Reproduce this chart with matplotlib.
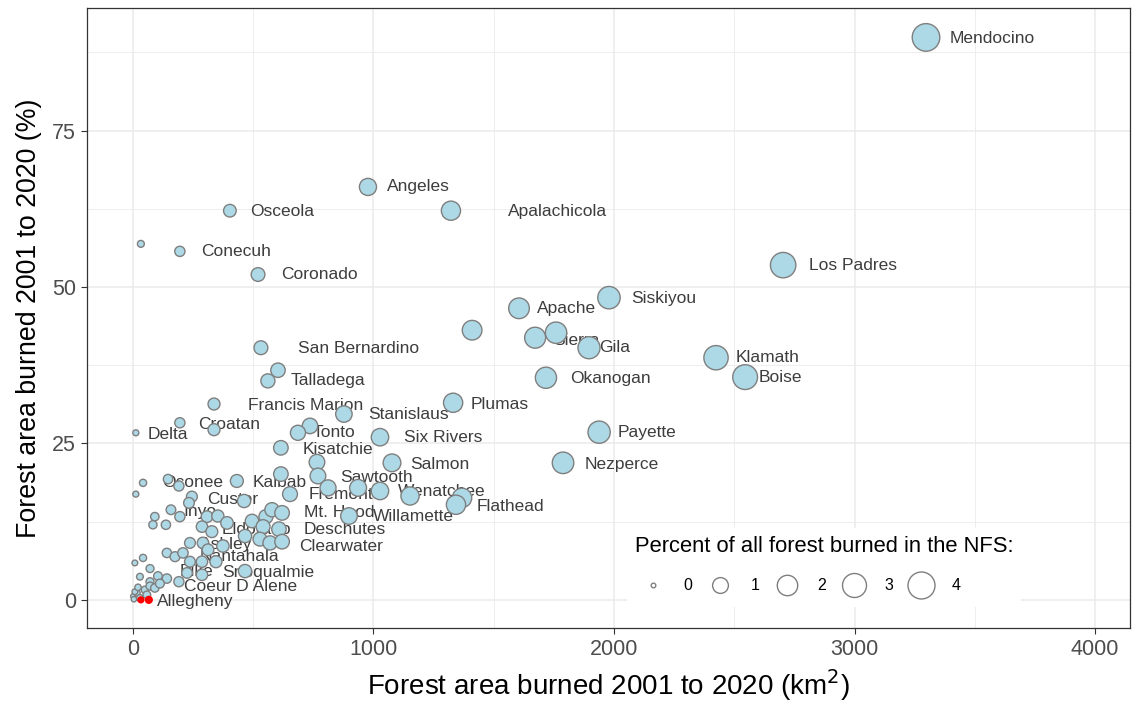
import numpy as np
import matplotlib
matplotlib.use("Agg")
import matplotlib.pyplot as plt
from matplotlib.lines import Line2D

plt.rcParams['font.family'] = ['Liberation Sans', 'DejaVu Sans']

# ---------------- data ----------------
forest = ["Mendocino", "Angeles", "Osceola", "Apalachicola", "", "Conecuh", "Coronado",
          "Los Padres", "Siskiyou", "Apache", "", "Sierra", "", "Gila", "Klamath", "Boise",
          "Okanogan", "San Bernardino", "Talladega", "", "Francis Marion", "Plumas",
          "Stanislaus", "Croatan", "", "Delta", "Tonto", "", "Six Rivers", "Payette",
          "Kisatchie", "Salmon", "Nezperce", "", "", "Sawtooth", "", "Kaibab", "Fremont", "",
          "Wenatchee", "", "Flathead", "", "Willamette", "Custer", "Oconee", "", "", "",
          "", "", "Inyo", "", "", "", "", "", "", "", "", "", "", "Mt. Hood", "", "",
          "Eldorado", "Deschutes", "", "", "", "Clearwater", "Ashley", "", "", "", "", "",
          "Nantahala", "", "Pike", "", "Snoqualmie", "", "", "", "", "Coeur D Alene", "",
          "", "", "", "", "", "", "", "", "", "", "", "", "", ""]
burned_km2 = [3297, 977, 403, 1322, 33, 195, 520,
              2703, 1979, 1605, 1410, 1759, 1672, 1896, 2424, 2545,
              1717, 532, 603, 561, 337, 1331,
              877, 195, 337, 12, 736, 686, 1027, 1938,
              615, 1077, 1788, 765, 769, 936, 615, 432, 811, 653,
              1027, 1152, 1368, 1343, 898, 462, 146, 191, 42, 12,
              245, 233, 158, 195, 91, 83, 137, 308, 353, 391, 287, 328, 495, 553, 578, 620,
              541, 607, 466, 528, 570, 620, 374, 237, 291, 312, 141, 175,
              208, 237, 287, 345, 466, 8, 42, 71, 104, 141, 191,
              71, 29, 225, 287, 0, 17, 29, 50, 71, 91, 112, 4, 8, 21, 58]
burned_pct = [89.9, 66.0, 62.2, 62.2, 56.9, 55.7, 52.0,
              53.5, 48.3, 46.6, 43.1, 42.7, 41.9, 40.3, 38.7, 35.6,
              35.5, 40.3, 36.7, 35.0, 31.3, 31.5,
              29.7, 28.3, 27.2, 26.7, 27.8, 26.7, 26.0, 26.8,
              24.3, 21.9, 21.9, 22.0, 19.8, 17.9, 20.1, 19.0, 17.9, 16.9,
              17.4, 16.6, 16.3, 15.2, 13.4, 15.8, 19.3, 18.2, 18.7, 16.9,
              16.5, 15.5, 14.4, 13.3, 13.3, 12.0, 12.0, 13.3, 13.4, 12.3, 11.7, 10.9, 12.6, 13.3, 14.4, 13.9,
              11.7, 11.3, 10.2, 9.7, 9.1, 9.3, 8.6, 9.1, 9.1, 8.0, 7.5, 6.9,
              7.5, 6.1, 6.1, 6.1, 4.6, 5.9, 6.7, 5.0, 3.8, 3.4, 2.9,
              2.9, 3.7, 4.3, 4.0, 0.6, 1.1, 0.3, 1.6, 2.2, 1.9, 2.6, 0.1, 1.3, 2.0, 0.8]

# highlighted forests (red)
red_km2 = [33, 66]
red_pct = [0.0, 0.0]

# total forest area burned in the NFS (km2), used for the size scale
nfs_total_km2 = 78000

# label text anchor (left edge, vertical centre) in data units
label_pos = {
    "Mendocino": (3397, 89.8), "Angeles": (1056, 66.0), "Osceola": (486, 62.1),
    "Apalachicola": (1559, 62.1), "Conecuh": (283, 55.6), "Coronado": (615, 52.0),
    "Los Padres": (2811, 53.4), "Siskiyou": (2071, 48.2), "Apache": (1680, 46.5),
    "Sierra": (1746, 41.5), "Gila": (1938, 40.3), "Klamath": (2507, 38.7),
    "Boise": (2603, 35.5), "Okanogan": (1817, 35.3), "San Bernardino": (686, 40.1),
    "Talladega": (657, 35.0), "Francis Marion": (478, 31.1), "Plumas": (1405, 31.3),
    "Stanislaus": (977, 29.6), "Croatan": (270, 28.1), "Delta": (62, 26.5),
    "Tonto": (748, 26.7), "Six Rivers": (1127, 26.0), "Payette": (2017, 26.7),
    "Kisatchie": (707, 24.1), "Salmon": (1152, 21.7), "Nezperce": (1879, 21.7),
    "Sawtooth": (861, 19.6), "Kaibab": (499, 18.8), "Oconee": (121, 18.7),
    "Fremont": (732, 16.8), "Wenatchee": (1102, 17.3), "Flathead": (1430, 15.0),
    "Custer": (308, 16.1), "Inyo": (208, 14.2), "Mt. Hood": (711, 13.9),
    "Willamette": (998, 13.4), "Eldorado": (370, 11.3), "Deschutes": (711, 11.2),
    "Ashley": (279, 8.8), "Clearwater": (690, 8.6), "Nantahala": (279, 7.0),
    "Pike": (195, 4.5), "Snoqualmie": (370, 4.3), "Coeur D Alene": (212, 2.1),
    "Allegheny": (100, -0.3),
}

legend_breaks = [0, 1, 2, 3, 4]

# ---------------- figure ----------------
DPI = 100
fig = plt.figure(figsize=(11.33, 7.02), dpi=DPI)
ax = fig.add_axes([87 / 1133, 74 / 702, 1043 / 1133, 620 / 702])

x = np.array(burned_km2, float)
y = np.array(burned_pct, float)
pct = 100 * x / nfs_total_km2
pmax = pct.max()


def size_pts2(p):
    d_px = 4.6 * (1 + 5 * np.sqrt(np.clip(np.asarray(p, float), 0, None) / pmax))
    return (d_px * 72 / DPI) ** 2


def diam_pts(p):
    return 4.6 * (1 + 5 * np.sqrt(p / pmax)) * 72 / DPI


ax.set_xlim(-191, 4145)
ax.set_ylim(-4.5, 94.6)

# grid
ax.set_xticks([0, 1000, 2000, 3000, 4000])
ax.set_yticks([0, 25, 50, 75])
ax.set_xticks([500, 1500, 2500, 3500], minor=True)
ax.set_yticks([12.5, 37.5, 62.5, 87.5], minor=True)
ax.grid(which='major', color='#EBEBEB', linewidth=1.1, zorder=0)
ax.grid(which='minor', color='#EBEBEB', linewidth=0.6, zorder=0)
ax.set_axisbelow(True)
ax.tick_params(which='minor', length=0)
ax.tick_params(which='major', length=4, width=0.8, color='#333333',
               labelsize=15.5, labelcolor='#4D4D4D', pad=4)
for s in ax.spines.values():
    s.set_color('#333333')
    s.set_linewidth(0.9)

# labels (drawn below points)
for name, (tx, ty) in label_pos.items():
    ax.text(tx, ty, name, fontsize=12.5, color='#3D3D3D', ha='left', va='center',
            zorder=2)

# points
ax.scatter(x, y, s=size_pts2(pct), facecolor='#ADD8E6', edgecolor='#7F7F7F',
           linewidth=1.0, zorder=3)
rp = 100 * np.array(red_km2, float) / nfs_total_km2
ax.scatter(red_km2, red_pct, s=size_pts2(rp) * 1.1, color='red', linewidth=0, zorder=4)

ax.set_xlabel("Forest area burned 2001 to 2020 (km$^2$)", fontsize=20, labelpad=5)
ax.set_ylabel("Forest area burned 2001 to 2020 (%)", fontsize=19.3, labelpad=7)

# legend
handles = [Line2D([], [], linestyle='none', marker='o', markersize=diam_pts(b),
                  markerfacecolor='white', markeredgecolor='#7F7F7F',
                  markeredgewidth=1.0) for b in legend_breaks]
leg = ax.legend(handles, [str(b) for b in legend_breaks], ncol=5,
                title="Percent of all forest burned in the NFS:",
                title_fontsize=15.8, fontsize=11.5, loc='lower left',
                bbox_to_anchor=(0.51, 0.0203), frameon=True, fancybox=False,
                facecolor='white', edgecolor='none', framealpha=1,
                handlelength=1.5, handletextpad=1.15, columnspacing=1.0,
                labelspacing=0.95, borderpad=0.5, alignment='left')
# indent the key row slightly relative to the title
leg._legend_handle_box.pad = 6 * 72 / DPI
leg.set_zorder(5)

fig.savefig("out.png", dpi=DPI)
